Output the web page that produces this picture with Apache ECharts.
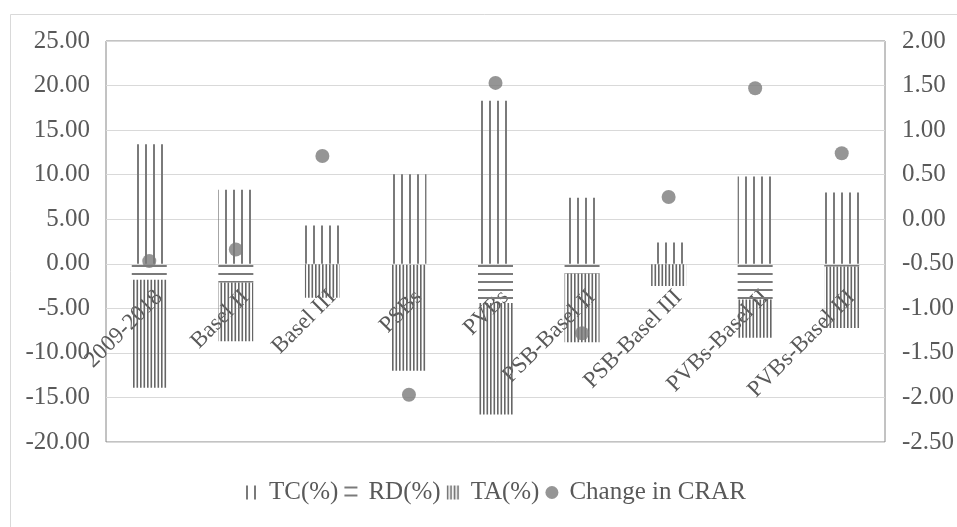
<!DOCTYPE html>
<html>
<head>
<meta charset="utf-8">
<script src="https://cdn.jsdelivr.net/npm/echarts@6/dist/echarts.min.js"></script>
<style>
html,body{margin:0;padding:0;background:#fff;}
#chart{width:957px;height:527px;}
</style>
</head>
<body>
<div id="chart"></div>
<script>
var categories = ['2009-2018', 'Basel II', 'Basel III', 'PSBs', 'PVBs', 'PSB-Basel II', 'PSB-Basel III', 'PVBs-Basel II', 'PVBs-Basel III'];
var tcValues = [13.4, 8.3, 4.3, 10.05, 18.3, 7.4, 2.4, 9.8, 8.0];
var rdValues = [-1.8, -2.1, -0.05, -0.1, -4.4, -1.1, -0.05, -4.0, -0.3];
var taValues = [-12.1, -6.6, -3.75, -11.9, -12.5, -7.7, -2.45, -4.3, -6.9];
var crarValues = [-0.47, -0.34, 0.71, -1.97, 1.53, -1.28, 0.25, 1.47, 0.74];
var leftTicks = { min: -20, max: 25, interval: 5 };
var rightTicks = { min: -2.5, max: 2, interval: 0.5 };

var GRAY = '#7a7a7a';
function makePattern(w, h, color, draw) {
  var c = document.createElement('canvas');
  c.width = w; c.height = h;
  var ctx = c.getContext('2d');
  ctx.fillStyle = color;
  draw(ctx);
  return { image: c, repeat: 'repeat' };
}
var tcPattern = makePattern(8, 4, GRAY, function (ctx) { ctx.fillRect(1, 0, 2, 4); });
var rdPattern = makePattern(4, 8, GRAY, function (ctx) { ctx.fillRect(0, 1, 4, 2); });
var taPattern = makePattern(7, 4, '#666666', function (ctx) { ctx.fillRect(0, 0, 1.6, 4); ctx.fillRect(3.5, 0, 1.6, 4); });

var FONT = "'Liberation Serif', 'Times New Roman', serif";
var TXT = '#595959';

var GRID_TOP = 41, GRID_BOTTOM = 85, H = 527;
var plotH = H - GRID_TOP - GRID_BOTTOM;
var zeroOffset = -plotH * (0 - leftTicks.min) / (leftTicks.max - leftTicks.min);

var chart = echarts.init(document.getElementById('chart'));
chart.setOption({
  animation: false,
  backgroundColor: '#fff',
  graphic: [{
    type: 'rect', left: 8, top: 12,
    shape: { width: 1000, height: 1000 },
    style: { fill: 'none', stroke: '#d9d9d9', lineWidth: 1 }
  }],
  grid: { left: 106, right: 72, top: GRID_TOP, bottom: GRID_BOTTOM, outerBoundsMode: 'none', containLabel: false, show: true, borderColor: '#868686', borderWidth: 1, backgroundColor: 'transparent' },
  legend: {
    bottom: 17, left: 240,
    itemWidth: 13, itemHeight: 14, itemGap: 6,
    textStyle: { fontFamily: FONT, fontSize: 25, color: TXT, padding: [0, 0, 0, 6] },
    data: [
      { name: 'TC(%)', icon: 'rect' },
      { name: 'RD(%)', icon: 'rect' },
      { name: 'TA(%)', icon: 'rect' },
      { name: 'Change in CRAR', icon: 'circle' }
    ]
  },
  xAxis: {
    type: 'category', data: categories, position: 'bottom', offset: zeroOffset,
    axisLine: { show: false, onZero: false },
    axisTick: { show: false },
    axisLabel: { rotate: 45, margin: 40, interval: 0, fontFamily: FONT, fontSize: 23, color: TXT, padding: [0, -14, 0, 0] }
  },
  yAxis: [{
    type: 'value', min: leftTicks.min, max: leftTicks.max, interval: leftTicks.interval,
    axisLine: { show: false }, axisTick: { show: false },
    splitLine: { lineStyle: { color: '#d9d9d9', width: 1 } },
    axisLabel: { formatter: function (v) { return v.toFixed(2); }, fontFamily: FONT, fontSize: 25, color: TXT, margin: 16 }
  }, {
    type: 'value', min: rightTicks.min, max: rightTicks.max, interval: rightTicks.interval,
    axisLine: { show: false }, axisTick: { show: false }, splitLine: { show: false },
    axisLabel: { formatter: function (v) { return v.toFixed(2); }, fontFamily: FONT, fontSize: 25, color: TXT, margin: 17 }
  }],
  series: [
    { name: 'TC(%)', type: 'bar', stack: 'a', barWidth: 35, data: tcValues, itemStyle: { color: tcPattern } },
    { name: 'RD(%)', type: 'bar', stack: 'a', barWidth: 35, data: rdValues, itemStyle: { color: rdPattern } },
    { name: 'TA(%)', type: 'bar', stack: 'a', barWidth: 35, data: taValues, itemStyle: { color: taPattern } },
    { name: 'Change in CRAR', type: 'scatter', yAxisIndex: 1, data: crarValues, symbolSize: 14, itemStyle: { color: GRAY }, z: 5 }
  ]
});
</script>
</body>
</html>
